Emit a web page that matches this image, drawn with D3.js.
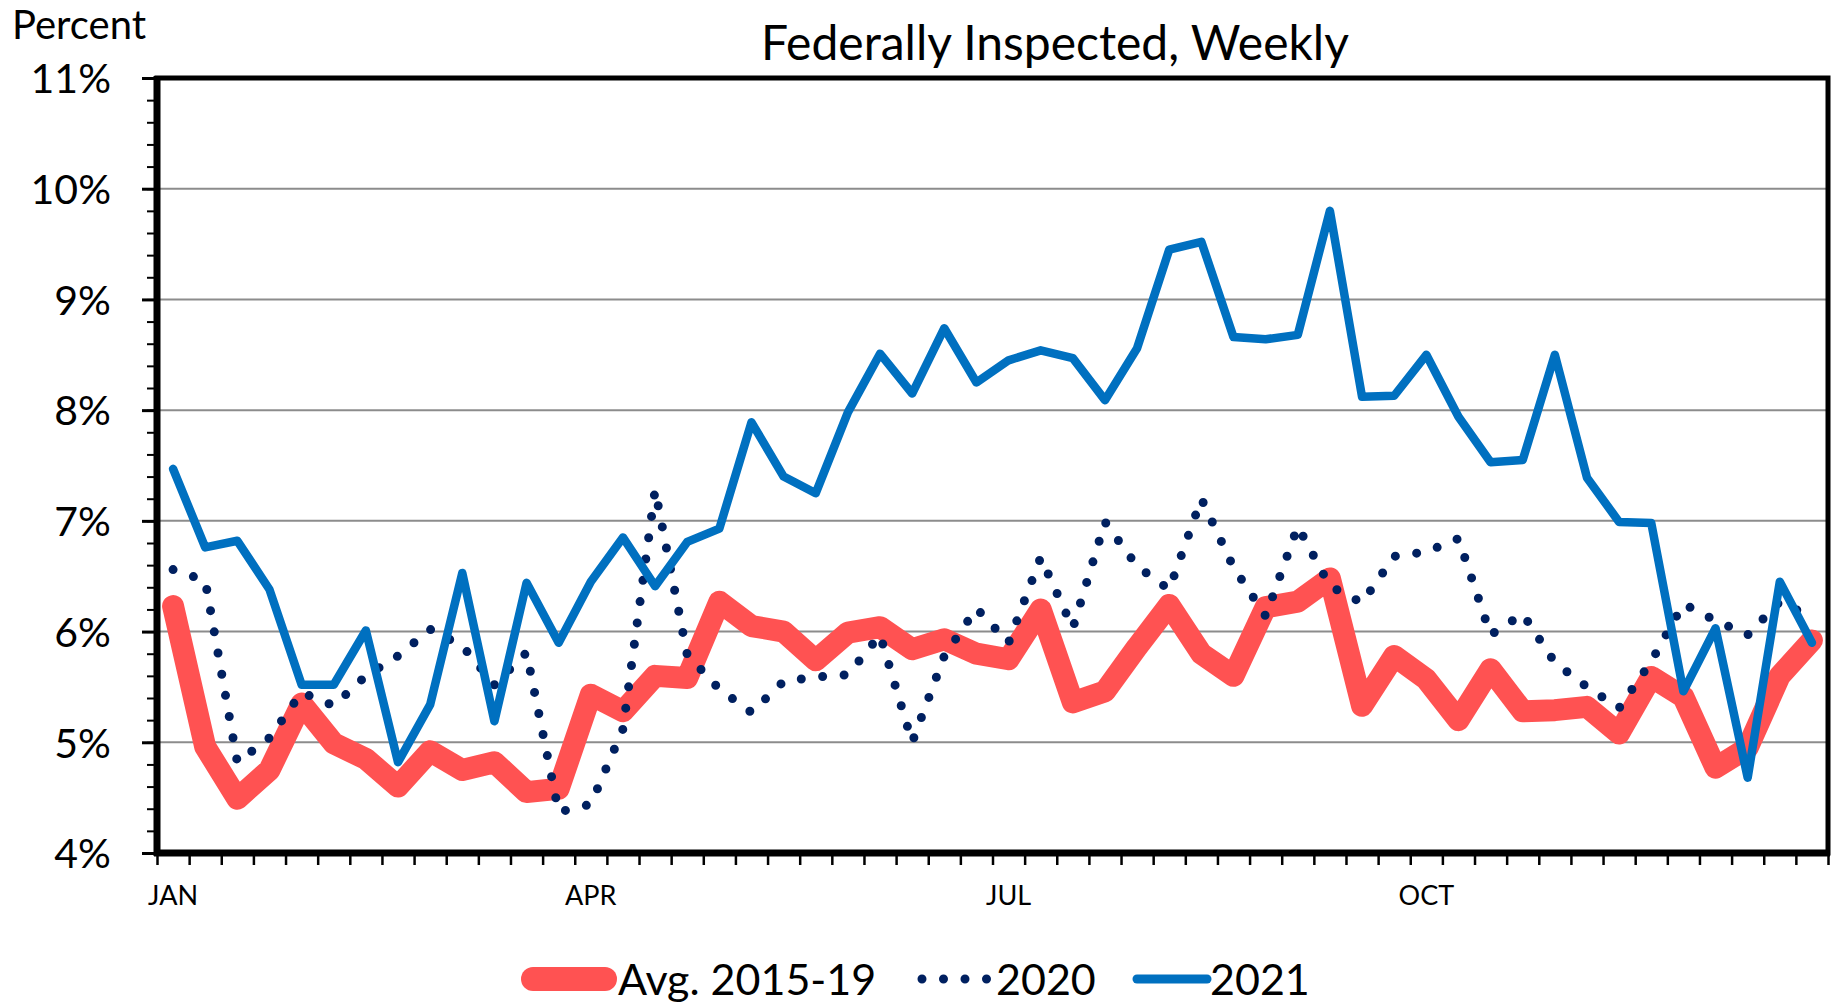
<!DOCTYPE html>
<html>
<head>
<meta charset="utf-8">
<script src="https://cdn.jsdelivr.net/npm/d3@7"></script>
<style>
  body { margin: 0; background: #fff; }
  text { font-family: Lato, "Open Sans", sans-serif; fill: #000; }
</style>
</head>
<body>
<div id="chart"></div>
<script>
let WIDTH = 1839
let HEIGHT = 1003

// weekly values, percent
let avg1519 = [6.23, 4.96, 4.49, 4.75, 5.35, 4.99, 4.85, 4.6, 4.92, 4.75, 4.82, 4.55, 4.58,
    5.43, 5.28, 5.6, 5.58, 6.27, 6.05, 6.0, 5.74, 5.99, 6.04, 5.84, 5.93, 5.8,
    5.75, 6.2, 5.36, 5.46, 5.86, 6.24, 5.8, 5.6, 6.22, 6.27, 6.48, 5.33, 5.78,
    5.57, 5.2, 5.66, 5.28, 5.29, 5.32, 5.08, 5.59, 5.41, 4.77, 4.95, 5.6, 5.92]
let y2020 = [6.56, 6.46, 4.82, 5.04, 5.45, 5.33, 5.6, 5.78, 6.02, 5.87, 5.52, 5.81, 4.37,
    4.44, 5.12, 7.28, 5.79, 5.48, 5.27, 5.55, 5.59, 5.61, 5.97, 5.0, 5.78, 6.21,
    5.9, 6.67, 6.03, 6.99, 6.59, 6.38, 7.2, 6.58, 6.14, 6.95, 6.41, 6.26, 6.68,
    6.72, 6.84, 5.97, 6.16, 5.72, 5.5, 5.31, 5.73, 6.25, 6.1, 5.97, 6.27, 6.13]
let y2021 = [7.47, 6.76, 6.82, 6.38, 5.52, 5.52, 6.01, 4.82, 5.34, 6.53, 5.19, 6.44, 5.9,
    6.45, 6.85, 6.41, 6.81, 6.93, 7.89, 7.4, 7.25, 7.98, 8.51, 8.15, 8.74, 8.25,
    8.45, 8.54, 8.47, 8.09, 8.56, 9.45, 9.52, 8.66, 8.64, 8.68, 9.8, 8.12, 8.13,
    8.5, 7.94, 7.53, 7.55, 8.5, 7.39, 6.99, 6.98, 5.46, 6.03, 4.68, 6.45, 5.9]

let monthLabels = ['JAN', 'APR', 'JUL', 'OCT']
let monthWeeks = [0, 13, 26, 39]
let yTicks = [4, 5, 6, 7, 8, 9, 10, 11]
let seriesNames = ['Avg. 2015-19', '2020', '2021']

let margin = {left: 157, right: 11, top: 78, bottom: 150}
let plotW = WIDTH - margin.left - margin.right
let plotH = HEIGHT - margin.top - margin.bottom

let svg = d3.select('#chart')
    .append('svg')
    .attr('width', WIDTH)
    .attr('height', HEIGHT)

let x = d3.scaleLinear().domain([0, avg1519.length]).range([0, plotW])
let y = d3.scaleLinear().domain([4, 11]).range([plotH, 0])

let g = svg.append('g').attr('transform', `translate(${margin.left},${margin.top})`)

// gridlines
g.selectAll('.grid')
    .data(yTicks.slice(1, -1))
    .join('line')
    .attr('x1', 0).attr('x2', plotW)
    .attr('y1', d => y(d)).attr('y2', d => y(d))
    .attr('stroke', '#8c8c8c')
    .attr('stroke-width', 2)

// minor y ticks
let minorY = g.append('g')
    .call(d3.axisLeft(y).tickValues(d3.range(4, 11.01, 0.2)).tickSize(10).tickFormat(''))
minorY.select('.domain').remove()
minorY.selectAll('line').attr('stroke-width', 2)

// major y ticks + labels
let yAxis = g.append('g')
    .call(d3.axisLeft(y).tickValues(yTicks).tickSize(15).tickPadding(31).tickFormat(d => d + '%'))
yAxis.select('.domain').remove()
yAxis.selectAll('line').attr('stroke-width', 3)
yAxis.selectAll('text')
    .style('font-size', '41px')
    .attr('dy', '0.36em')

// x ticks every week
let xAxis = g.append('g')
    .attr('transform', `translate(0,${plotH})`)
    .call(d3.axisBottom(x).tickValues(d3.range(0, avg1519.length + 1)).tickSize(12).tickFormat(''))
xAxis.select('.domain').remove()
xAxis.selectAll('line').attr('stroke-width', 2.5)

g.selectAll('.month')
    .data(monthLabels)
    .join('text')
    .attr('x', (d, i) => x(monthWeeks[i] + 0.5))
    .attr('y', plotH + 52)
    .attr('text-anchor', 'middle')
    .style('font-size', '27px')
    .text(d => d)

// series
let line = d3.line()
    .x((d, i) => x(i + 0.5))
    .y(d => y(d))

g.append('path')
    .datum(avg1519)
    .attr('d', line)
    .attr('fill', 'none')
    .attr('stroke', '#ff5252')
    .attr('stroke-width', 22)
    .attr('stroke-linejoin', 'round')
    .attr('stroke-linecap', 'round')

g.append('path')
    .datum(y2020)
    .attr('d', line)
    .attr('fill', 'none')
    .attr('stroke', '#002060')
    .attr('stroke-width', 9)
    .attr('stroke-linecap', 'round')
    .attr('stroke-dasharray', '0 21.5')

g.append('path')
    .datum(y2021)
    .attr('d', line)
    .attr('fill', 'none')
    .attr('stroke', '#0070c0')
    .attr('stroke-width', 8.5)
    .attr('stroke-linejoin', 'round')
    .attr('stroke-linecap', 'round')

// frame
g.append('rect')
    .attr('x', 0).attr('y', 0)
    .attr('width', plotW).attr('height', plotH)
    .attr('fill', 'none')
    .attr('stroke', '#000')
    .attr('stroke-width', 5)
g.append('line')
    .attr('x1', 0).attr('x2', 0).attr('y1', -2).attr('y2', plotH + 3)
    .attr('stroke', '#000').attr('stroke-width', 7)
g.append('line')
    .attr('x1', -3).attr('x2', plotW + 2).attr('y1', plotH).attr('y2', plotH)
    .attr('stroke', '#000').attr('stroke-width', 7)

// titles
svg.append('text')
    .attr('x', 12).attr('y', 39)
    .style('font-size', '40px')
    .text('Percent')

svg.append('text')
    .attr('x', 1055).attr('y', 60)
    .attr('text-anchor', 'middle')
    .style('font-size', '48px')
    .text('Federally Inspected, Weekly')

// legend
let legendStyles = [
    {color: '#ff5252', width: 24, dash: null, x: 533, len: 72, tx: 618},
    {color: '#002060', width: 9, dash: '0 21.5', x: 922, len: 66, tx: 996},
    {color: '#0070c0', width: 9, dash: null, x: 1137, len: 70, tx: 1210}
]
let leg = svg.append('g').attr('transform', 'translate(0,979)')
leg.selectAll('line')
    .data(seriesNames)
    .join('line')
    .attr('x1', (d, i) => legendStyles[i].x)
    .attr('x2', (d, i) => legendStyles[i].x + legendStyles[i].len)
    .attr('y1', 0).attr('y2', 0)
    .attr('stroke', (d, i) => legendStyles[i].color)
    .attr('stroke-width', (d, i) => legendStyles[i].width)
    .attr('stroke-linecap', 'round')
    .attr('stroke-dasharray', (d, i) => legendStyles[i].dash)
leg.selectAll('text')
    .data(seriesNames)
    .join('text')
    .attr('x', (d, i) => legendStyles[i].tx)
    .attr('y', 16)
    .style('font-size', '43px')
    .text(d => d)
</script>
</body>
</html>
